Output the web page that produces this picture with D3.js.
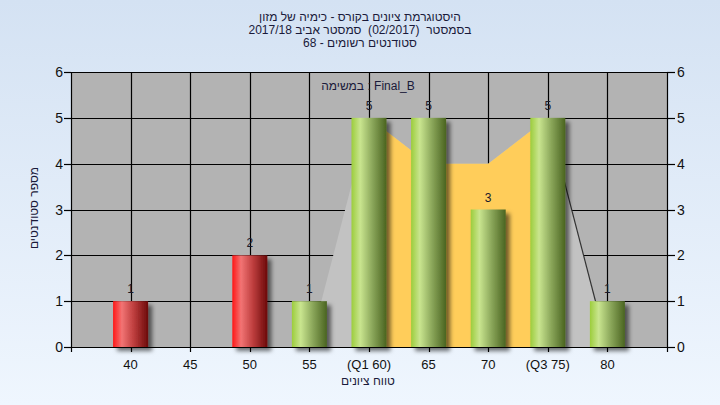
<!DOCTYPE html>
<html><head><meta charset="utf-8">
<script src="https://cdn.jsdelivr.net/npm/d3@7"></script>
<style>
html,body{margin:0;padding:0;}
body{width:720px;height:405px;overflow:hidden;}
text{font-family:"Liberation Sans","DejaVu Sans",Arial,sans-serif;white-space:pre;}
</style></head>
<body><svg id="c" width="720" height="405"></svg>
<script>
// ---- data ----
const grades = [40, 45, 50, 55, 60, 65, 70, 75, 80];
const tickLabels = ["40", "45", "50", "55", "(Q1 60)", "65", "70", "(Q3 75)", "80"];
const counts = [1, 0, 2, 1, 5, 5, 3, 5, 1];
const passFlags = [false, false, false, true, true, true, true, true, true];
const shapeGrades = [55, 60, 65, 70, 75, 80];
const shapeValues = [0, 5, 4, 4, 5, 0];
const iqrGrades = [60, 65, 70, 75];
const iqrValues = [5, 4, 4, 5];
const whiskerGrades = [75, 80];
const whiskerValues = [5, 0];
const yTicks = [0, 1, 2, 3, 4, 5, 6];
const titleLines = ["היסטוגרמת ציונים בקורס - כימיה של מזון", "בסמסטר  (02/2017)  סמסטר אביב 2017/18", "סטודנטים רשומים - 68"];
const legendText = "במשימה : Final_B";
const xTitle = "טווח ציונים";
const yTitle = "מספר סטודנטים";

// ---- chart ----
const svg = d3.select("#c");
const defs = svg.append("defs");
const bg = defs.append("linearGradient").attr("id","bg").attr("x1",0).attr("y1",0).attr("x2",0).attr("y2",1);
bg.append("stop").attr("offset","0%").attr("stop-color","#d4e2f3");
bg.append("stop").attr("offset","100%").attr("stop-color","#eff6fe");
function cyl(id, stops){
  const g = defs.append("linearGradient").attr("id",id).attr("x1",0).attr("y1",0).attr("x2",1).attr("y2",0);
  stops.forEach(s=>g.append("stop").attr("offset",s[0]).attr("stop-color",s[1]));
}
cyl("red", [["0%","#ff1616"],["25%","#f27474"],["60%","#bc3c3c"],["100%","#6c0a0a"]]);
cyl("green", [["0%","#9ccd3c"],["25%","#c9e58f"],["60%","#8aa65a"],["100%","#4a6420"]]);
const f = defs.append("filter").attr("id","sh").attr("x","-20%").attr("y","-10%").attr("width","160%").attr("height","130%");
f.append("feDropShadow").attr("dx",4).attr("dy",4).attr("stdDeviation",2).attr("flood-color","#000").attr("flood-opacity",0.55);

svg.append("rect").attr("width",720).attr("height",405).attr("fill","url(#bg)");

const L = 71, R = 667, T = 72, B = 347;
const x = d3.scaleLinear().domain([35, 85]).range([L, R]);
const y = d3.scaleLinear().domain([0, 6]).range([B, T]);

svg.append("rect").attr("x",L).attr("y",T).attr("width",R-L).attr("height",B-T).attr("fill","#b3b3b3");

// grid
const grid = svg.append("g").attr("stroke","#000").attr("stroke-width",1.2);
yTicks.forEach(v=>grid.append("line").attr("x1",L).attr("x2",R).attr("y1",Math.round(y(v))+0.5).attr("y2",Math.round(y(v))+0.5));
grades.forEach(g=>grid.append("line").attr("y1",T).attr("y2",B).attr("x1",Math.round(x(g))+0.5).attr("x2",Math.round(x(g))+0.5));

// distribution shape
const area = d3.area().x(d=>x(d[0])).y0(y(0)).y1(d=>y(d[1]));
svg.append("path").datum(shapeGrades.map((g,i)=>[g,shapeValues[i]])).attr("d",area).attr("fill","#c2c2c2");
svg.append("path").datum(iqrGrades.map((g,i)=>[g,iqrValues[i]])).attr("d",area).attr("fill","#ffcd5a");
svg.append("path").datum(whiskerGrades.map((g,i)=>[g,whiskerValues[i]]))
  .attr("d",d3.line().x(d=>x(d[0])).y(d=>y(d[1]))).attr("stroke","#333").attr("stroke-width",1.2).attr("fill","none");

// bars
const bw = 35;
const data = grades.map((g,i)=>({g, v:counts[i], pass:passFlags[i]})).filter(d=>d.v>0);
svg.append("g").selectAll("rect").data(data).join("rect")
  .attr("x",d=>x(d.g)-bw/2).attr("width",bw)
  .attr("y",d=>y(d.v)).attr("height",d=>y(0)-y(d.v))
  .attr("fill",d=>d.pass?"url(#green)":"url(#red)")
  .attr("filter","url(#sh)");
svg.append("g").selectAll("text").data(data).join("text")
  .attr("x",d=>x(d.g)).attr("y",d=>y(d.v)-8)
  .attr("text-anchor","middle").attr("font-size",12).attr("fill","#1a1a2a")
  .text(d=>d.v);

// axes
const ax = svg.append("g").attr("stroke","#000").attr("stroke-width",1.2);
ax.append("line").attr("x1",L+0.5).attr("x2",L+0.5).attr("y1",T).attr("y2",B+5);
ax.append("line").attr("x1",R+0.5).attr("x2",R+0.5).attr("y1",T).attr("y2",B+5);
ax.append("line").attr("x1",L).attr("x2",R).attr("y1",B+0.5).attr("y2",B+0.5);
ax.append("line").attr("x1",L).attr("x2",R).attr("y1",T+0.5).attr("y2",T+0.5);
yTicks.forEach(v=>{
  const yy = Math.round(y(v))+0.5;
  ax.append("line").attr("x1",L-7).attr("x2",L).attr("y1",yy).attr("y2",yy);
  ax.append("line").attr("x1",R).attr("x2",R+8).attr("y1",yy).attr("y2",yy);
});
grades.forEach(g=>ax.append("line").attr("x1",Math.round(x(g))+0.5).attr("x2",Math.round(x(g))+0.5).attr("y1",B).attr("y2",B+5));

const tl = svg.append("g").attr("font-size",14).attr("fill","#111");
yTicks.forEach(v=>{
  tl.append("text").attr("x",L-8).attr("y",y(v)+5).attr("text-anchor","end").text(v);
  tl.append("text").attr("x",R+10).attr("y",y(v)+5).attr("text-anchor","start").text(v);
});
const xl = svg.append("g").attr("font-size",13).attr("fill","#111");
grades.forEach((g,i)=>xl.append("text").attr("x",x(g)).attr("y",369).attr("text-anchor","middle").text(tickLabels[i]));

// titles
titleLines.forEach((t,i)=>svg.append("text").attr("x",360).attr("y",21+i*13).attr("text-anchor","middle")
  .attr("direction","rtl").style("unicode-bidi","embed").attr("font-size",12).attr("fill","#1a1a3a").text(t));
svg.append("text").attr("x",368).attr("y",90).attr("text-anchor","middle").attr("font-size",12).attr("fill","#1a1a3a").text(legendText);
svg.append("text").attr("x",368).attr("y",385).attr("text-anchor","middle").attr("direction","rtl").style("unicode-bidi","embed")
  .attr("font-size",12).attr("fill","#1a1a3a").text(xTitle);
svg.append("text").attr("transform","translate(38,208) rotate(-90)").attr("text-anchor","middle").attr("direction","rtl").style("unicode-bidi","embed")
  .attr("font-size",12).attr("fill","#1a1a3a").text(yTitle);
</script></body></html>
